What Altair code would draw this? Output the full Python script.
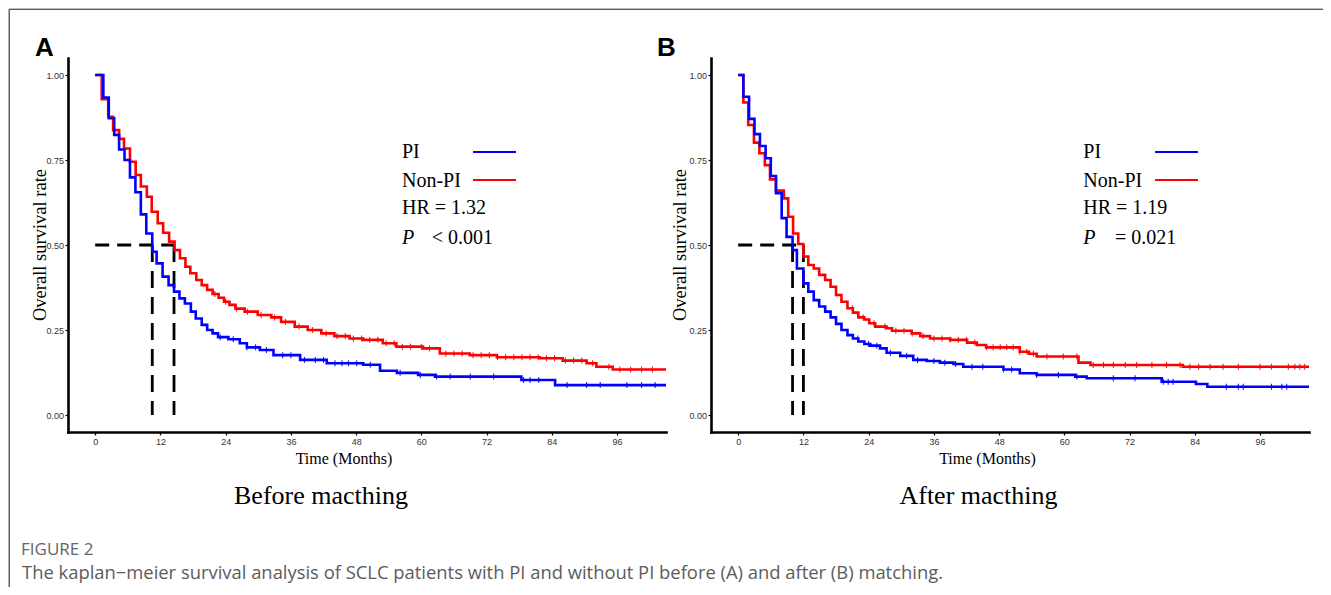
import altair as alt
import pandas as pd

# ---------------- data ----------------
X_TICKS = [0, 12, 24, 36, 48, 60, 72, 84, 96]
Y_TICKS = [0.0, 0.25, 0.5, 0.75, 1.0]

# Panel A (before matching)
A_PI_T = [0, 1.5, 2.5, 3.5, 4.4, 5.4, 6.4, 7.4, 8.4, 9.4, 10.5, 11.3, 12.4, 13.5, 14.5, 15.5, 16.5, 17.6, 18.5, 19.6,
          20.6, 21.6, 22.6, 24.5, 26.6, 27.9, 30.3, 32.8, 37.7, 42.6, 49.3, 52.4, 55.5, 59.4, 62.5, 78.4, 84.6, 105]
A_PI_S = [1.0, 0.934, 0.873, 0.824, 0.781, 0.750, 0.699, 0.655, 0.590, 0.534, 0.480, 0.446, 0.407, 0.382, 0.363, 0.343,
          0.328, 0.304, 0.284, 0.265, 0.250, 0.240, 0.229, 0.223, 0.211, 0.199, 0.191, 0.176, 0.162, 0.152, 0.148, 0.130,
          0.124, 0.118, 0.113, 0.103, 0.088, 0.088]
A_NPI_T = [0, 1.2, 2.4, 3.3, 4.4, 5.3, 6.4, 7.45, 8.4, 9.5, 10.4, 11.5, 12.5, 13.6, 14.6, 15.6, 16.6, 17.5, 18.6, 19.6,
           20.6, 21.6, 22.7, 23.7, 24.7, 25.8, 27.5, 29.9, 32.4, 34.2, 36.7, 39.1, 41.6, 44.0, 46.8, 49.3, 52.9, 55.4,
           60.3, 63.4, 68.9, 73.9, 81.8, 86.0, 90.4, 92.2, 95.2, 105]
A_NPI_S = [1.0, 0.929, 0.877, 0.838, 0.812, 0.784, 0.745, 0.706, 0.672, 0.642, 0.598, 0.564, 0.536, 0.510, 0.485, 0.461,
           0.436, 0.417, 0.397, 0.382, 0.368, 0.356, 0.345, 0.333, 0.324, 0.313, 0.304, 0.294, 0.287, 0.274, 0.260, 0.250,
           0.240, 0.232, 0.225, 0.221, 0.211, 0.201, 0.196, 0.181, 0.176, 0.170, 0.167, 0.160, 0.152, 0.142, 0.134, 0.134]
A_PI_CENSOR = [23.0, 25.4, 27.9, 29.5, 31.5, 34.5, 36.0, 38.5, 40.5, 42.0, 44.1, 45.4, 46.6, 48.1, 50.6, 56.1, 59.8,
               62.8, 65.3, 69.0, 73.3, 78.8, 80.0, 81.6, 86.8, 90.4, 92.9, 97.8, 100.5, 103.0]
A_NPI_CENSOR = [22.0, 24.0, 26.0, 28.0, 30.5, 33.0, 35.0, 37.5, 40.0, 42.5, 44.5, 46.0, 47.5, 49.0, 50.5, 52.0, 53.5,
                55.0, 56.5, 58.0, 60.0, 61.5, 64.5, 66.0, 67.5, 69.5, 71.0, 72.5, 74.0, 75.5, 77.0, 78.5, 80.0, 81.5,
                83.0, 84.5, 86.5, 88.0, 89.5, 91.5, 94.5, 96.5, 98.5, 100.5, 102.5]
A_MEDIANS = [10.5, 14.5]

# Panel B (after matching)
B_PI_T = [0, 0.95, 2.0, 3.0, 4.0, 5.05, 6.0, 6.95, 8.0, 8.9, 10.0, 10.8, 12.0, 12.9, 13.9, 14.9, 16.0, 17.0, 18.0, 19.0,
          20.1, 21.1, 22.1, 23.2, 24.3, 26.1, 27.3, 29.8, 32.2, 34.7, 37.1, 39.6, 41.4, 48.8, 51.8, 54.9, 62.0, 64.1,
          77.9, 84.2, 86.3, 105]
B_PI_S = [1.0, 0.936, 0.871, 0.826, 0.791, 0.755, 0.703, 0.652, 0.579, 0.524, 0.485, 0.431, 0.387, 0.363, 0.338, 0.319,
          0.304, 0.287, 0.268, 0.250, 0.235, 0.225, 0.216, 0.209, 0.204, 0.196, 0.183, 0.174, 0.162, 0.159, 0.154, 0.150,
          0.142, 0.134, 0.123, 0.118, 0.113, 0.108, 0.098, 0.091, 0.083, 0.083]
B_NPI_T = [0, 0.95, 1.85, 2.9, 3.9, 4.9, 5.85, 6.95, 8.4, 9.2, 10.1, 11.05, 12.0, 12.9, 13.9, 14.9, 16.0, 17.0, 18.0,
           19.0, 20.1, 21.1, 22.1, 23.2, 24.1, 25.2, 27.3, 28.3, 31.9, 33.5, 35.3, 39.0, 42.1, 43.9, 45.6, 51.8, 53.5,
           54.9, 62.6, 64.8, 81.8, 105]
B_NPI_S = [1.0, 0.919, 0.853, 0.801, 0.770, 0.735, 0.693, 0.660, 0.637, 0.583, 0.534, 0.503, 0.466, 0.441, 0.431, 0.412,
           0.397, 0.377, 0.353, 0.333, 0.314, 0.301, 0.287, 0.281, 0.270, 0.260, 0.255, 0.248, 0.240, 0.232, 0.225, 0.221,
           0.213, 0.206, 0.199, 0.186, 0.180, 0.172, 0.154, 0.147, 0.142, 0.142]
B_PI_CENSOR = [22.0, 24.0, 25.5, 28.0, 31.0, 33.0, 36.0, 38.0, 40.0, 43.0, 45.0, 48.8, 50.3, 54.9, 58.9, 62.3, 69.0,
               73.0, 78.2, 79.1, 80.0, 89.8, 92.0, 92.9, 98.1, 100.0, 100.9]
B_NPI_CENSOR = [21.0, 23.0, 25.0, 27.0, 29.0, 30.5, 32.0, 34.0, 36.0, 37.5, 39.0, 40.5, 42.0, 43.5, 45.7, 46.9, 48.2,
                49.4, 50.6, 51.8, 53.1, 54.3, 56.8, 59.8, 62.3, 65.3, 67.2, 69.0, 71.2, 73.3, 76.1, 78.8, 81.3, 83.1,
                84.7, 86.8, 89.2, 92.0, 96.0, 98.1, 101.2, 102.4, 103.3, 104.2]
B_MEDIANS = [10.0, 12.0]

GROUPS = ["PI", "Non-PI"]
COLORS = ["#0000FF", "#FF0000"]

# ---------------- helpers ----------------
ONE = alt.Data(values=[{"a": 1}])
SERIF = "Liberation Serif"
SANS = "Liberation Sans"


def surv_at(ts, ss, t):
    val = ss[0]
    for ti, si in zip(ts, ss):
        if ti <= t:
            val = si
    return val


def text(s, x, y, size, font, color="black", align="left", baseline="alphabetic", **kw):
    return alt.Chart(ONE).mark_text(text=s, fontSize=size, font=font, color=color, align=align,
                                    baseline=baseline, **kw).encode(x=alt.value(x), y=alt.value(y))


def hline(x1, x2, y, color, width):
    return alt.Chart(ONE).mark_rule(color=color, strokeWidth=width).encode(
        x=alt.value(x1), x2=alt.value(x2), y=alt.value(y))


def vline(x, y1, y2, color, width):
    return alt.Chart(ONE).mark_rule(color=color, strokeWidth=width).encode(
        x=alt.value(x), y=alt.value(y1), y2=alt.value(y2))


TOTAL_W, TOTAL_H = 1315, 579
Y_RANGE = [424, 50]


def panel(pi_t, pi_s, npi_t, npi_s, pi_c, npi_c, medians, x_left):
    xs = alt.Scale(domain=[-5, 105], range=[x_left, x_left + 598], zero=False, nice=False)
    ys = alt.Scale(domain=[-0.05, 1.05], range=Y_RANGE, zero=False, nice=False)
    common = dict(grid=False, title=None, domainColor="black", domainWidth=2.6, domainCap="square",
                  tickColor="black", tickWidth=1.2, tickSize=3, labelFont=SANS, labelFontSize=9,
                  labelColor="#333333")
    xaxis = alt.Axis(orient="bottom", offset=-(TOTAL_H - Y_RANGE[0]), values=X_TICKS, labelPadding=2, **common)
    yaxis = alt.Axis(orient="left", offset=-x_left, values=Y_TICKS, format=".2f", labelPadding=1.5, **common)

    def X(f):
        return alt.X(f, type="quantitative", scale=xs, axis=xaxis)

    def Y(f):
        return alt.Y(f, type="quantitative", scale=ys, axis=yaxis)

    layers = []
    # dashed median guides
    hdf = pd.DataFrame({"t": [0], "t2": [max(medians)], "s": [0.5]})
    vdf = pd.DataFrame({"t": medians, "s": [0.5] * len(medians), "s2": [0.0] * len(medians)})
    layers.append(alt.Chart(hdf).mark_rule(color="black", strokeWidth=2.8, strokeDash=[14, 8]).encode(
        x=X("t"), x2="t2:Q", y=Y("s")))
    layers.append(alt.Chart(vdf).mark_rule(color="black", strokeWidth=2.8, strokeDash=[17, 9]).encode(
        x=X("t"), y=Y("s"), y2="s2:Q"))
    # curves: Non-PI (red) under PI (blue)
    for ts, ss, cs, col in [(npi_t, npi_s, npi_c, COLORS[1]), (pi_t, pi_s, pi_c, COLORS[0])]:
        df = pd.DataFrame({"t": ts, "s": ss})
        layers.append(alt.Chart(df).mark_line(interpolate="step-after", color=col, strokeWidth=2.6).encode(
            x=X("t"), y=Y("s")))
        cdf = pd.DataFrame({"t": cs, "s": [surv_at(ts, ss, c) for c in cs]})
        layers.append(alt.Chart(cdf).mark_tick(orient="vertical", color=col, size=6, thickness=1.1, opacity=0.9).encode(
            x=X("t"), y=Y("s")))
    return alt.layer(*layers)


panel_a = panel(A_PI_T, A_PI_S, A_NPI_T, A_NPI_S, A_PI_CENSOR, A_NPI_CENSOR, A_MEDIANS, 60)
panel_b = panel(B_PI_T, B_PI_S, B_NPI_T, B_NPI_S, B_PI_CENSOR, B_NPI_CENSOR, B_MEDIANS, 703)

ann = [
    # frame
    hline(1.3, TOTAL_W, 1.3, "#5a5a5a", 1.3),
    vline(1.3, 1.3, TOTAL_H, "#5a5a5a", 1.3),
    # panel letters
    text("A", 27, 47.5, 26, SANS, fontWeight="bold"),
    text("B", 649, 47.5, 26, SANS, fontWeight="bold"),
    # axis titles
    text("Overall survival rate", 32, 237, 18.5, SERIF, align="center", baseline="middle", angle=270),
    text("Overall survival rate", 672, 237, 18.5, SERIF, align="center", baseline="middle", angle=270),
    text("Time (Months)", 336, 455.5, 16, SERIF, align="center"),
    text("Time (Months)", 979.5, 455.5, 16, SERIF, align="center"),
    # subtitles
    text("Before macthing", 313, 496, 26, SERIF, align="center"),
    text("After macthing", 970.5, 496, 26, SERIF, align="center"),
    # legend A
    text("PI", 394, 150.3, 20, SERIF),
    text("Non-PI", 394, 178.5, 20, SERIF),
    text("HR = 1.32", 394, 206, 20, SERIF),
    text("P", 394, 236, 20, SERIF, fontStyle="italic"),
    text("< 0.001", 423.7, 236, 20, SERIF),
    hline(465, 508, 144, COLORS[0], 2),
    hline(465, 508, 172, COLORS[1], 2),
    # legend B
    text("PI", 1075.3, 150.3, 20, SERIF),
    text("Non-PI", 1075.3, 178.5, 20, SERIF),
    text("HR = 1.19", 1075.3, 206, 20, SERIF),
    text("P", 1075.3, 236, 20, SERIF, fontStyle="italic"),
    text("= 0.021", 1107, 236, 20, SERIF),
    hline(1147, 1190, 144, COLORS[0], 2),
    hline(1147, 1190, 172, COLORS[1], 2),
    # caption
    text("FIGURE 2", 13, 547, 17, "Open Sans", color="#666666"),
    text("The kaplan\u2212meier survival analysis of SCLC patients with PI and without PI before (A) and after (B) matching.",
         14, 571, 18.4, "Open Sans", color="#5c5c5c"),
]

chart = alt.layer(panel_a, panel_b, *ann).resolve_scale(x="independent", y="independent").properties(
    width=TOTAL_W, height=TOTAL_H, autosize=alt.AutoSizeParams(type="none"), padding=0
).configure_view(stroke=None).configure(background="white")

chart.save("out.html", embed_options={"renderer": "svg", "actions": False})
